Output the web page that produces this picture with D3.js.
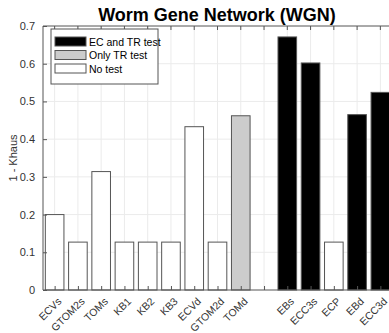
<!DOCTYPE html>
<html>
<head>
<meta charset="utf-8">
<script src="https://cdn.jsdelivr.net/npm/d3@7"></script>
<style>
  body { margin: 0; background: #fff; }
  svg text { font-family: "Liberation Sans", Arial, sans-serif; }
</style>
</head>
<body>
<div id="chart"></div>
<script>
// categories ("" is the empty slot between the two groups)
var categories = ["ECVs", "GTOM2s", "TOMs", "KB1", "KB2", "KB3", "ECVd", "GTOM2d", "TOMd", "",
                  "EBs", "ECC3s", "ECP", "EBd", "ECC3d"];
var values = [0.2, 0.127, 0.314, 0.127, 0.127, 0.127, 0.433, 0.127, 0.462, null,
              0.671, 0.602, 0.127, 0.465, 0.524];
// test type per bar: 0 = no test, 1 = only TR test, 2 = EC and TR test
var testType = [0, 0, 0, 0, 0, 0, 0, 0, 1, null, 2, 2, 0, 2, 2];
var legendLabels = ["EC and TR test", "Only TR test", "No test"];
var legendTypes = [2, 1, 0];
var yTicks = [0, 0.1, 0.2, 0.3, 0.4, 0.5, 0.6, 0.7];

var fills = {0: "#ffffff", 1: "#cccccc", 2: "#000000"};

var W = 389, H = 333;
var m = {left: 43, top: 26, right: -3, bottom: 43};
var w = W - m.left - m.right, h = H - m.top - m.bottom;

var svg = d3.select("#chart").append("svg")
    .attr("width", W).attr("height", H);

var x = d3.scaleLinear().domain([0.5, categories.length + 0.5]).range([0, w]);
var y = d3.scaleLinear().domain([0, 0.7]).range([h, 0]);

var vis = svg.append("g").attr("transform", "translate(" + m.left + "," + m.top + ")");

// grid
vis.selectAll("line.hgrid").data(yTicks.slice(1, -1)).enter().append("line")
    .attr("x1", 0).attr("x2", w)
    .attr("y1", function(d){ return y(d); }).attr("y2", function(d){ return y(d); })
    .attr("stroke", "#ebebeb");
vis.selectAll("line.vgrid").data(categories).enter().append("line")
    .attr("x1", function(d, i){ return x(i + 1); }).attr("x2", function(d, i){ return x(i + 1); })
    .attr("y1", 0).attr("y2", h)
    .attr("stroke", "#ebebeb");

// bars
var bw = (x(2) - x(1)) * 0.8;
values.forEach(function(v, i){
  if (v === null) return;
  vis.append("rect")
    .attr("x", x(i + 1) - bw / 2)
    .attr("y", y(v))
    .attr("width", bw)
    .attr("height", h - y(v))
    .attr("fill", fills[testType[i]])
    .attr("stroke", "#555")
    .attr("stroke-width", 1);
});

// axes
var yAxis = d3.axisLeft(y).tickValues(yTicks).tickSize(-4).tickPadding(8)
    .tickFormat(function(d){ return d === 0 ? "0" : d3.format(".1f")(d); });
var gy = vis.append("g").call(yAxis);
gy.select(".domain").attr("stroke", "#555").attr("d", "M0," + h + "V0");
gy.selectAll(".tick line").attr("stroke", "#555");
gy.selectAll("text").attr("fill", "#333").style("font-size", "11px");

var xAxis = d3.axisBottom(x).tickValues(d3.range(1, categories.length + 1))
    .tickSize(-4).tickFormat(function(d){ return categories[d - 1]; });
var gx = vis.append("g").attr("transform", "translate(0," + h + ")").call(xAxis);
gx.select(".domain").attr("stroke", "#555").attr("d", "M0,0H" + w);
gx.selectAll(".tick line").attr("stroke", "#555");
gx.selectAll("text")
    .attr("fill", "#333").style("font-size", "10.5px")
    .attr("text-anchor", "end")
    .attr("y", 0).attr("dy", 0)
    .attr("transform", "translate(7,12) rotate(-45)");

// top axis ticks
vis.append("line").attr("x1", 0).attr("x2", w).attr("y1", 0).attr("y2", 0).attr("stroke", "#555");
vis.selectAll("line.ttick").data(categories).enter().append("line")
    .attr("x1", function(d, i){ return x(i + 1); }).attr("x2", function(d, i){ return x(i + 1); })
    .attr("y1", 0).attr("y2", 4).attr("stroke", "#555");

// y label
svg.append("text")
    .attr("transform", "translate(17," + (m.top + h / 2) + ") rotate(-90)")
    .attr("text-anchor", "middle")
    .attr("fill", "#333")
    .style("font-size", "11px")
    .text("1 - Khaus");

// title
svg.append("text")
    .attr("x", 217).attr("y", 21)
    .attr("text-anchor", "middle")
    .style("font-size", "18px").style("font-weight", "bold")
    .attr("fill", "#000")
    .text("Worm Gene Network (WGN)");

// legend
var lg = svg.append("g").attr("transform", "translate(51,29)");
lg.append("rect").attr("width", 107).attr("height", 55)
    .attr("fill", "#fff").attr("stroke", "#555");
legendLabels.forEach(function(lab, i){
  var row = lg.append("g").attr("transform", "translate(4," + (8 + i * 13.5) + ")");
  row.append("rect").attr("width", 31).attr("height", 9)
      .attr("fill", fills[legendTypes[i]]).attr("stroke", "#555");
  row.append("text").attr("x", 34).attr("y", 8.5)
      .style("font-size", "10.5px").attr("fill", "#000").text(lab);
});
</script>
</body>
</html>
